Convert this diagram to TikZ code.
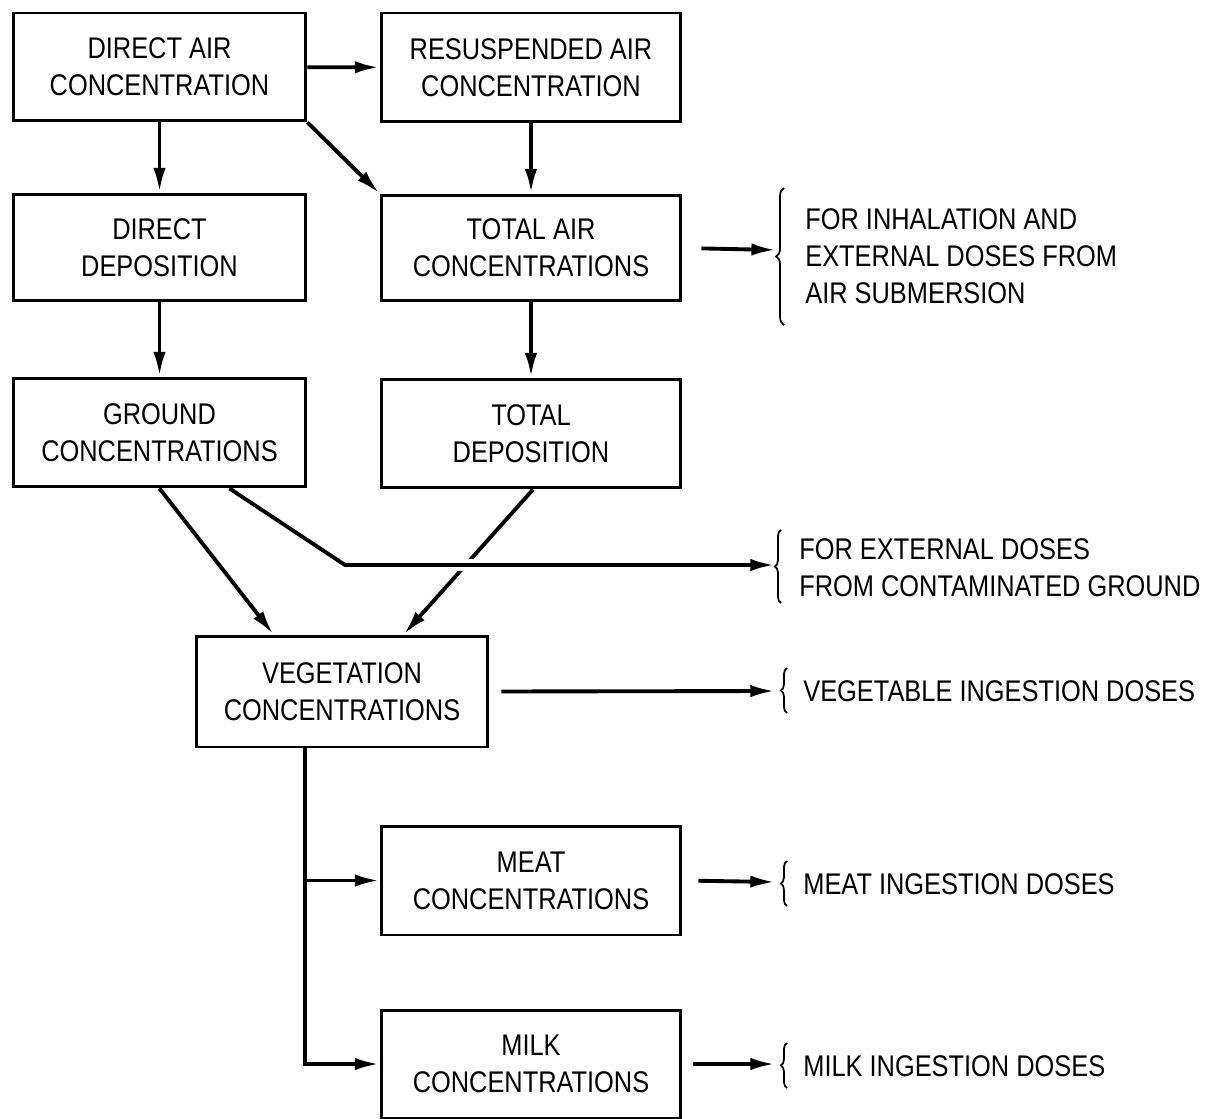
\documentclass[tikz,border=0pt]{standalone}
\usepackage{fontspec}
\setmainfont{Liberation Sans}[FakeStretch=0.85]
\usetikzlibrary{arrows.meta,calc,decorations.pathreplacing}
\begin{document}
\begin{tikzpicture}[x=0.02cm,y=-0.02cm,
 box/.style={draw,line width=1.7pt,align=center,font=\fontsize{17}{21}\selectfont,inner sep=0pt},
 arr/.style={line width=2.2pt,-{Latex[length=14pt,width=7pt]}},
 lbl/.style={anchor=west,align=left,font=\fontsize{17}{21}\selectfont,inner sep=0pt},
 brc/.style={decorate,decoration={brace,amplitude=4.5pt},line width=1pt},
 sbrc/.style={decorate,decoration={brace,amplitude=3.5pt},line width=1pt}]
\useasboundingbox (0,0) rectangle (1219,1118);
\node[box,minimum width=5.86cm,minimum height=2.16cm] (A) at (159.5,67) {DIRECT AIR\\CONCENTRATION};
\node[box,minimum width=6cm,minimum height=2.18cm] (B) at (531,67.5) {RESUSPENDED AIR\\CONCENTRATION};
\node[box,minimum width=5.86cm,minimum height=2.14cm] (C) at (159.5,247.5) {DIRECT\\DEPOSITION};
\node[box,minimum width=6cm,minimum height=2.12cm] (D) at (531,248) {TOTAL AIR\\CONCENTRATIONS};
\node[box,minimum width=5.86cm,minimum height=2.18cm] (E) at (159.5,432.5) {GROUND\\CONCENTRATIONS};
\node[box,minimum width=6cm,minimum height=2.18cm] (F) at (531,433.5) {TOTAL\\DEPOSITION};
\node[box,minimum width=5.84cm,minimum height=2.22cm] (G) at (342,691.5) {VEGETATION\\CONCENTRATIONS};
\node[box,minimum width=6cm,minimum height=2.18cm] (H) at (531,880.5) {MEAT\\CONCENTRATIONS};
\node[box,minimum width=6cm,minimum height=2.16cm] (I) at (531,1064) {MILK\\CONCENTRATIONS};

\coordinate (b1) at (776,250);
\coordinate (k) at (345,565);
\coordinate (b2) at (775,565);
\coordinate (b3) at (775,691);
\coordinate (b4) at (775,882);
\coordinate (b5) at (775,1064);

\draw[arr] (A) -- (B);
\draw[arr] (A) -- (C);
\draw[arr] (B) -- (D);
\draw[arr] (C) -- (E);
\draw[arr] (D) -- (F);
\draw[arr] (A.south east) -- (D.north west);
\draw[arr,shorten <=0.38cm] (D.east) -- (b1);

\draw[arr] (E.south) -- ($(G.north west)+(79,0)$);
\draw[arr] ($(F.south)+(2,0)$) -- ($(G.north west)+(209,0)$);
\draw[white,line width=7pt] ($(k)+(25,0)$) -- ($(b2)+(-40,0)$);
\draw[arr] ($(E.south)+(70,0)$) -- (k) -- (b2);

\draw[arr,shorten <=0.24cm] (G.east) -- (b3);
\draw[arr] ($(G.south)+(-37,0)$) |- (H.west);
\draw[arr] ($(G.south)+(-37,0)$) |- (I.west);
\draw[arr,shorten <=0.32cm] (H.east) -- (b4);
\draw[arr,shorten <=0.22cm] (I.east) -- (b5);

\draw[brc] (784,325) -- (784,188);
\node[lbl] (t1) at (805,256) {FOR INHALATION AND\\EXTERNAL DOSES FROM\\AIR SUBMERSION};
\draw[sbrc] (781,603) -- (781,530);
\node[lbl] (t2) at (799,568) {FOR EXTERNAL DOSES\\FROM CONTAMINATED GROUND};
\draw[sbrc] (787,713) -- (787,668);
\node[lbl] (t3) at (803,691) {VEGETABLE INGESTION DOSES};
\draw[sbrc] (787,906) -- (787,861);
\node[lbl] (t4) at (803,884) {MEAT INGESTION DOSES};
\draw[sbrc] (787,1088) -- (787,1043);
\node[lbl] (t5) at (803,1066) {MILK INGESTION DOSES};
\end{tikzpicture}
\end{document}
